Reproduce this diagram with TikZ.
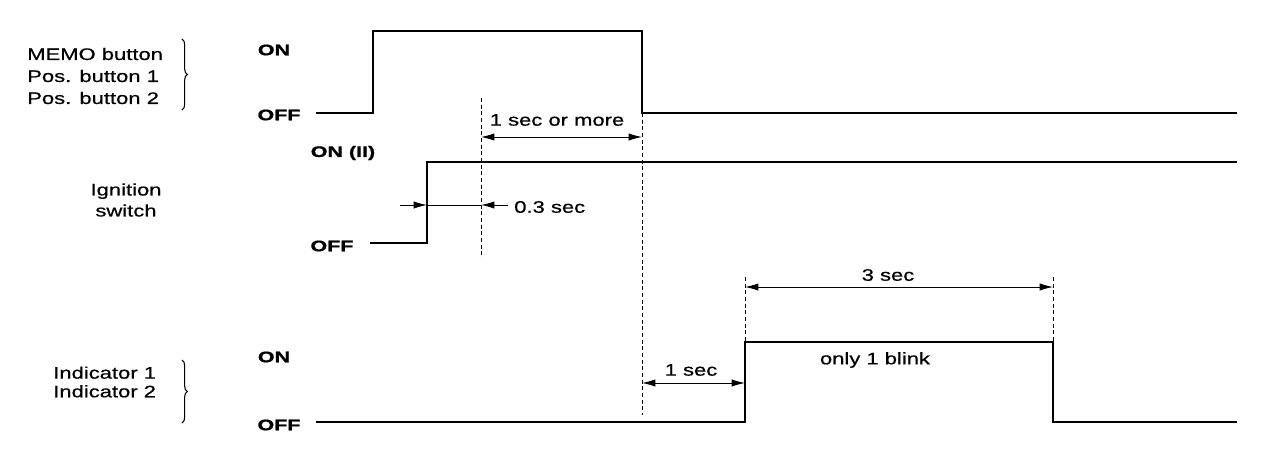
\documentclass[tikz,border=0pt]{standalone}
\usepackage{fontspec}
\newfontfamily\diagfont[FakeStretch=1.32,FakeBold=0.6]{Liberation Sans}
\newfontfamily\levelfont[FakeStretch=1.4,FakeBold=1]{Liberation Sans}
\usetikzlibrary{arrows.meta,decorations.pathreplacing}

\begin{document}
\begin{tikzpicture}[x=0.75pt, y=-0.75pt, every node/.style={font=\diagfont\fontsize{12.5}{16.5}\selectfont, inner sep=0pt}, lvl/.style={font=\levelfont\bfseries\fontsize{11.5}{13}\selectfont}, sig/.style={line width=1.9pt, line join=miter}, guide/.style={line width=0.55pt, dash pattern=on 3pt off 2pt}, tip/.style={-{Latex[length=10pt,width=5.5pt]}, line width=0.7pt}, dim/.style={{Latex[length=10pt,width=5.5pt]}-{Latex[length=10pt,width=5.5pt]}, line width=0.7pt}, grp/.style={decorate, decoration={brace,amplitude=4pt}, line width=0.8pt}]
\useasboundingbox (0,0) rectangle (1280,456);
% signal names
\node[anchor=west,align=left] (memo) at (27,76) {MEMO button\\Pos. button 1\\Pos. button 2};
\node[align=center,font=\diagfont\fontsize{12.5}{15.75}\selectfont] (ign) at (126,200) {Ignition\\switch};
\node[anchor=west,align=left,font=\diagfont\fontsize{12.5}{14}\selectfont] (ind) at (53,382) {Indicator 1\\Indicator 2};
\draw[grp] (182,39) -- (182,110);
\draw[grp] (182,360) -- (182,423);
% levels
\node[lvl] (on1) at (274,50) {ON};
\node[lvl] (off1) at (279,115) {OFF};
\node[lvl] (on2) at (343,153) {ON (II)};
\node[lvl] (off2) at (332,246) {OFF};
\node[lvl] (on3) at (274,357) {ON};
\node[lvl] (off3) at (279,425) {OFF};
% time marks
\coordinate (tm) at (373,0);
\coordinate (ti) at (427,0);
\coordinate (td) at (481,0);
\coordinate (tr) at (642,0);
\coordinate (ta) at (745,0);
\coordinate (tb) at (1053,0);
% waveforms
\draw[sig] (316,113) -- (tm |- 0,113) -- (tm |- 0,31) -- (tr |- 0,31) -- (tr |- 0,113) -- (1237,113);
\draw[sig] (370,243) -- (ti |- 0,243) -- (ti |- 0,162) -- (1237,162);
\draw[sig] (316,422) -- (ta |- 0,422) -- (ta |- 0,342) -- (tb |- 0,342) -- (tb |- 0,422) -- (1237,422);
% guides
\draw[guide] (td |- 0,98) -- (td |- 0,258);
\draw[guide] (tr |- 0,113) -- (tr |- 0,415);
\draw[guide] (ta |- 0,277) -- (ta |- 0,342);
\draw[guide] (tb |- 0,277) -- (tb |- 0,342);
% durations
\draw[dim] (td |- 0,137) -- (tr |- 0,137);
\node (more) at (557,120) {1 sec or more};
\draw[tip] (400,205) -- (ti |- 0,205);
\draw[line width=0.7pt] (ti |- 0,205) -- (td |- 0,205);
\draw[tip] (508,205) -- (td |- 0,205);
\node[anchor=west] (short) at (514,207) {0.3 sec};
\draw[dim] (tr |- 0,383) -- (ta |- 0,383);
\node (wait) at (691,370) {1 sec};
\draw[dim] (ta |- 0,287) -- (tb |- 0,287);
\node (blinklen) at (888,275) {3 sec};
\node (blink) at (875,360) {only 1 blink};
\end{tikzpicture}
\end{document}
